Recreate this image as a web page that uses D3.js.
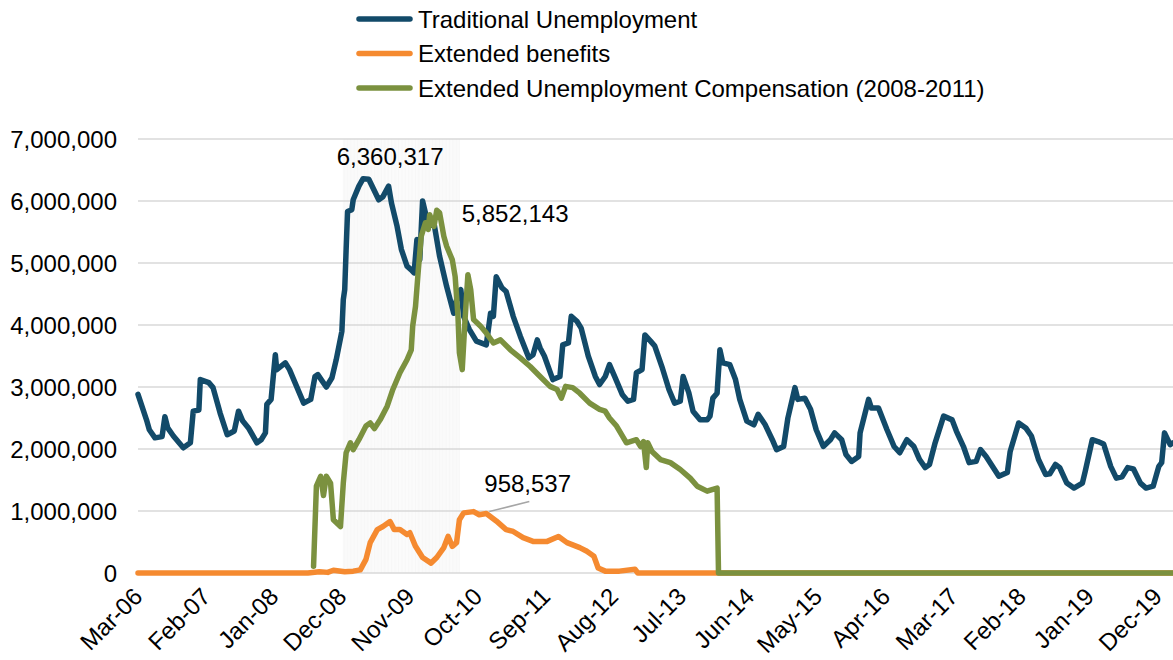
<!DOCTYPE html>
<head>
<meta charset="utf-8">
<script src="https://d3js.org/d3.v7.min.js"></script>
<style>
  body { margin: 0; background: #fff; }
  text { font-family: "Liberation Sans", Arial, sans-serif; fill: #000; }
</style>
</head>
<body>
<div id="vis"></div>
<script>
// weeks counted from the first week of Mar-06, one category per week
const tickLabels = ['Mar-06', 'Feb-07', 'Jan-08', 'Dec-08', 'Nov-09', 'Oct-10', 'Sep-11', 'Aug-12',
  'Jul-13', 'Jun-14', 'May-15', 'Apr-16', 'Mar-17', 'Feb-18', 'Jan-19', 'Dec-19']
const tickWeeks = [0, 48, 96, 144, 192, 240, 288, 336, 384, 432, 480, 528, 576, 624, 672, 720]
const lastWeek = 731

const seriesNames = ['Traditional Unemployment', 'Extended benefits', 'Extended Unemployment Compensation (2008-2011)']
const seriesColors = ['#124a69', '#f58a30', '#7b913f']

// [week, claims]
const traditional = [
  [0, 2880000], [6, 2470000], [8, 2310000], [12, 2180000], [17, 2200000], [19, 2520000], [21, 2340000], [25, 2210000],
  [32, 2020000], [37, 2100000], [39, 2610000], [43, 2630000], [44, 3120000], [50, 3070000], [53, 2990000], [58, 2580000],
  [63, 2230000], [68, 2290000], [71, 2610000], [74, 2450000], [78, 2340000], [84, 2100000], [87, 2150000], [90, 2260000],
  [91, 2720000], [94, 2800000], [97, 3520000], [98, 3280000], [104, 3390000], [107, 3280000], [112, 3010000], [117, 2740000],
  [122, 2800000], [125, 3170000], [127, 3200000], [133, 3000000], [137, 3150000], [140, 3440000], [144, 3900000], [145, 4410000],
  [146, 4570000], [147, 5220000], [148, 5830000], [151, 5860000], [152, 6020000], [156, 6240000], [159, 6360000], [163, 6350000],
  [166, 6210000], [170, 6020000], [173, 6070000], [177, 6240000], [179, 5970000], [183, 5590000], [186, 5220000], [190, 4950000],
  [193, 4890000], [195, 4840000], [197, 5380000], [199, 5050000], [201, 6000000], [203, 5810000], [205, 5590000], [209, 5650000],
  [213, 5110000], [218, 4620000], [223, 4190000], [226, 4520000], [228, 4570000], [230, 4140000], [234, 3930000], [239, 3740000],
  [246, 3680000], [249, 4190000], [251, 4140000], [253, 4780000], [257, 4600000], [260, 4540000], [265, 4140000], [270, 3820000],
  [276, 3470000], [279, 3520000], [282, 3760000], [284, 3630000], [287, 3500000], [293, 3120000], [298, 3170000], [300, 3680000],
  [304, 3710000], [306, 4140000], [310, 4060000], [313, 3950000], [318, 3500000], [323, 3170000], [326, 3040000], [330, 3170000],
  [333, 3360000], [337, 3150000], [342, 2880000], [346, 2770000], [350, 2800000], [352, 3230000], [356, 3280000], [358, 3840000],
  [362, 3740000], [365, 3660000], [370, 3330000], [375, 2960000], [379, 2740000], [383, 2770000], [385, 3170000], [389, 2910000],
  [392, 2610000], [397, 2470000], [402, 2470000], [404, 2530000], [406, 2820000], [409, 2900000], [411, 3600000], [413, 3390000],
  [418, 3360000], [422, 3120000], [425, 2800000], [430, 2450000], [435, 2390000], [438, 2560000], [443, 2390000], [448, 2150000],
  [451, 1990000], [456, 2040000], [459, 2500000], [464, 2990000], [466, 2800000], [471, 2820000], [475, 2640000], [479, 2310000],
  [484, 2040000], [489, 2150000], [492, 2260000], [497, 2150000], [500, 1910000], [504, 1800000], [509, 1880000], [510, 2260000],
  [516, 2800000], [518, 2660000], [523, 2660000], [529, 2310000], [534, 2040000], [538, 1940000], [543, 2150000], [548, 2040000],
  [552, 1830000], [556, 1700000], [559, 1750000], [563, 2100000], [569, 2530000], [575, 2470000], [578, 2290000], [583, 2040000],
  [587, 1780000], [592, 1800000], [595, 1990000], [599, 1880000], [608, 1560000], [614, 1620000], [616, 1960000], [622, 2420000],
  [627, 2340000], [631, 2210000], [636, 1830000], [641, 1590000], [644, 1600000], [648, 1750000], [651, 1700000], [656, 1450000],
  [661, 1370000], [667, 1450000], [669, 1640000], [674, 2150000], [678, 2120000], [682, 2080000], [687, 1720000], [691, 1530000],
  [695, 1550000], [699, 1700000], [703, 1680000], [708, 1450000], [712, 1370000], [717, 1400000], [721, 1720000], [723, 1780000],
  [725, 2260000], [729, 2070000], [731, 2100000]
]

const extendedBenefits = [
  [0, 0], [120, 0], [128, 20000], [134, 10000], [138, 45000], [146, 20000], [152, 30000], [157, 50000], [161, 220000],
  [164, 490000], [169, 700000], [173, 750000], [178, 830000], [181, 700000], [185, 700000], [190, 620000], [192, 650000],
  [196, 430000], [201, 250000], [207, 160000], [211, 250000], [216, 410000], [219, 590000], [222, 430000], [225, 490000],
  [227, 860000], [230, 970000], [237, 990000], [241, 940000], [246, 958537], [253, 840000], [260, 700000], [265, 670000],
  [272, 570000], [279, 510000], [289, 510000], [297, 590000], [303, 490000], [312, 410000], [317, 350000], [322, 270000],
  [325, 80000], [330, 30000], [340, 30000], [351, 60000], [353, 0], [731, 0]
]

const extendedComp = [
  [124, 110000], [126, 1400000], [129, 1560000], [131, 1250000], [133, 1560000], [136, 1450000], [138, 860000], [143, 750000],
  [145, 1450000], [147, 1940000], [150, 2100000], [152, 1990000], [156, 2150000], [161, 2370000], [164, 2420000], [167, 2330000],
  [171, 2470000], [176, 2690000], [180, 2960000], [185, 3230000], [190, 3440000], [193, 3600000], [194, 3980000], [196, 4300000],
  [198, 4890000], [200, 5430000], [203, 5650000], [205, 5540000], [206, 5780000], [209, 5590000], [211, 5852143], [213, 5810000],
  [216, 5430000], [218, 5270000], [222, 5050000], [224, 4780000], [226, 4140000], [227, 3550000], [229, 3280000], [231, 4090000],
  [233, 4810000], [235, 4570000], [237, 4090000], [242, 3980000], [246, 3870000], [251, 3710000], [256, 3760000], [263, 3600000],
  [270, 3470000], [277, 3330000], [284, 3170000], [291, 3010000], [296, 2960000], [299, 2820000], [302, 3010000], [307, 2990000],
  [312, 2900000], [319, 2740000], [326, 2640000], [330, 2610000], [333, 2500000], [338, 2370000], [345, 2100000], [352, 2150000],
  [355, 2040000], [357, 2120000], [359, 1700000], [360, 2100000], [363, 1960000], [369, 1830000], [376, 1780000], [383, 1670000],
  [390, 1530000], [395, 1400000], [402, 1320000], [406, 1350000], [409, 1370000], [410, 0], [731, 0]
]

// shaded period, in weeks
const shadeWeeks = [145, 227]

// labelled points: [series index, week, value]
const callouts = [[0, 159, 6360317], [2, 211, 5852143], [1, 246, 958537]]

const yTicks = [0, 1000000, 2000000, 3000000, 4000000, 5000000, 6000000, 7000000]

const width = 1173
const height = 660
const margin = { left: 138, right: 0, top: 139, bottom: 87 }
const fontSize = '24px'

const svg = d3.select('#vis').append('svg')
  .attr('width', width)
  .attr('height', height)

const x = d3.scaleLinear().domain([0, lastWeek]).range([margin.left, width - margin.right])
const y = d3.scaleLinear().domain([0, 7000000]).range([height - margin.bottom, margin.top])

// shaded period: thin vertical stripes
svg.append('g')
  .selectAll('line')
  .data(d3.range(shadeWeeks[0], shadeWeeks[1] + 1))
  .enter().append('line')
  .attr('x1', d => x(d)).attr('x2', d => x(d))
  .attr('y1', y(7000000)).attr('y2', y(0))
  .attr('stroke', '#f1f1f1')
  .attr('stroke-width', 0.6)

// gridlines
svg.append('g')
  .selectAll('line')
  .data(yTicks)
  .enter().append('line')
  .attr('x1', x(0)).attr('x2', x(lastWeek))
  .attr('y1', d => y(d)).attr('y2', d => y(d))
  .attr('stroke', '#d9d9d9')
  .attr('stroke-width', 1.5)

// y axis labels
const fmt = d3.format(',')
svg.append('g')
  .selectAll('text')
  .data(yTicks)
  .enter().append('text')
  .attr('x', 117)
  .attr('y', d => y(d))
  .attr('dy', '0.36em')
  .attr('text-anchor', 'end')
  .style('font-size', fontSize)
  .text(d => fmt(d))

// x axis labels
svg.append('g')
  .selectAll('text')
  .data(tickWeeks)
  .enter().append('text')
  .attr('transform', d => 'translate(' + (x(d) + 6) + ',' + (y(0) + 25) + ') rotate(-45)')
  .attr('text-anchor', 'end')
  .style('font-size', fontSize)
  .text((d, i) => tickLabels[i])

// lines
const line = d3.line()
  .x(d => x(d[0]))
  .y(d => y(d[1]))

const allSeries = [traditional, extendedBenefits, extendedComp]
svg.append('g')
  .selectAll('path')
  .data(allSeries)
  .enter().append('path')
  .attr('d', line)
  .attr('fill', 'none')
  .attr('stroke', (d, i) => seriesColors[i])
  .attr('stroke-width', 5.5)
  .attr('stroke-linejoin', 'round')
  .attr('stroke-linecap', 'round')

// callouts
const c0 = callouts[0]
svg.append('text')
  .attr('x', x(c0[1]) + 27)
  .attr('y', y(c0[2]) - 14)
  .attr('text-anchor', 'middle')
  .style('font-size', fontSize)
  .text(fmt(c0[2]))

const c1 = callouts[1]
svg.append('text')
  .attr('x', x(c1[1]) + 25)
  .attr('y', y(c1[2]) + 12)
  .style('font-size', fontSize)
  .text(fmt(c1[2]))

const c2 = callouts[2]
svg.append('line')
  .attr('x1', x(c2[1]) + 3).attr('y1', y(c2[2]) - 2)
  .attr('x2', x(c2[1]) + 43).attr('y2', y(c2[2]) - 12)
  .attr('stroke', '#a6a6a6')
  .attr('stroke-width', 1.5)
svg.append('text')
  .attr('x', x(c2[1]) - 2)
  .attr('y', y(c2[2]) - 22)
  .style('font-size', fontSize)
  .text(fmt(c2[2]))

// legend
const legend = svg.append('g')
  .selectAll('g')
  .data(seriesNames)
  .enter().append('g')
  .attr('transform', (d, i) => 'translate(357,' + (19 + i * 34.5) + ')')

legend.append('line')
  .attr('x1', 2).attr('x2', 53)
  .attr('stroke', (d, i) => seriesColors[i])
  .attr('stroke-width', 5.5)
  .attr('stroke-linecap', 'round')

legend.append('text')
  .attr('x', 61)
  .attr('dy', '0.36em')
  .style('font-size', fontSize)
  .text(d => d)
</script>
</body>
